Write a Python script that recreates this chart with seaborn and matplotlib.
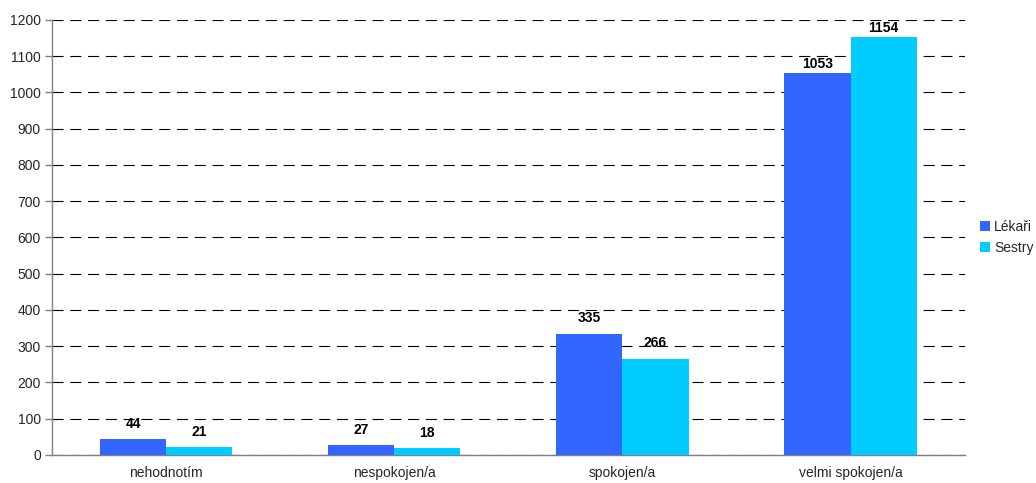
import matplotlib
matplotlib.use("Agg")
import matplotlib.pyplot as plt
import seaborn as sns
import pandas as pd
import numpy as np
from matplotlib.ticker import FixedLocator, MultipleLocator

categories = ["nehodnotím", "nespokojen/a", "spokojen/a", "velmi spokojen/a"]
lekari = [44, 27, 335, 1053]
sestry = [21, 18, 266, 1154]
series = ["Lékaři", "Sestry"]
colors = ["#3366FF", "#00CCFF"]

df = pd.DataFrame({
    "kategorie": categories * 2,
    "hodnota": lekari + sestry,
    "skupina": [series[0]] * len(categories) + [series[1]] * len(categories),
})

sns.set_style("white")
plt.rcParams["font.family"] = ["Liberation Sans", "DejaVu Sans"]

fig = plt.figure(figsize=(10.36, 4.83), dpi=100)
ax = fig.add_axes([0.0502, 0.058, 0.881, 0.9006])

sns.barplot(data=df, x="kategorie", y="hodnota", hue="skupina", palette=colors,
            width=0.58, gap=0, saturation=1, ax=ax, legend=True, zorder=3,
            linewidth=0, edgecolor="none")

for cont in ax.containers:
    for bar in cont:
        h = bar.get_height()
        pad = 1.5 if h > 1000 else 6
        ax.annotate(f"{int(round(h))}", xy=(bar.get_x() + bar.get_width() / 2, h),
                    xytext=(0, pad), textcoords="offset points",
                    ha="center", va="bottom", fontsize=10, fontweight="bold",
                    color="black", zorder=5)

ax.set_ylim(0, 1200)
ax.set_xlim(-0.5, len(categories) - 0.5)
ax.yaxis.set_major_locator(MultipleLocator(100))
ax.grid(axis="y", color="black", linestyle=(0, (10, 6)), linewidth=0.8, zorder=0)
ax.set_axisbelow(True)
ax.set_xlabel("")
ax.set_ylabel("")
ax.tick_params(axis="x", which="major", length=0, labelsize=10, pad=8)
ax.xaxis.set_minor_locator(FixedLocator(np.arange(-0.5, len(categories), 1.0)))
ax.tick_params(axis="x", which="minor", length=5, color="#808080", width=1)
ax.tick_params(axis="y", length=5, color="#808080", labelsize=10, left=True, width=1, pad=3)
for s in ["top", "right"]:
    ax.spines[s].set_visible(False)
for s in ["left", "bottom"]:
    ax.spines[s].set_color("#808080")
    ax.spines[s].set_linewidth(1)

leg = ax.legend(loc="center left", bbox_to_anchor=(1.003, 0.5), frameon=False,
                fontsize=10, handlelength=0.7, handleheight=0.7, handletextpad=0.3,
                labelspacing=0.5)

fig.savefig("out.png", dpi=100)
